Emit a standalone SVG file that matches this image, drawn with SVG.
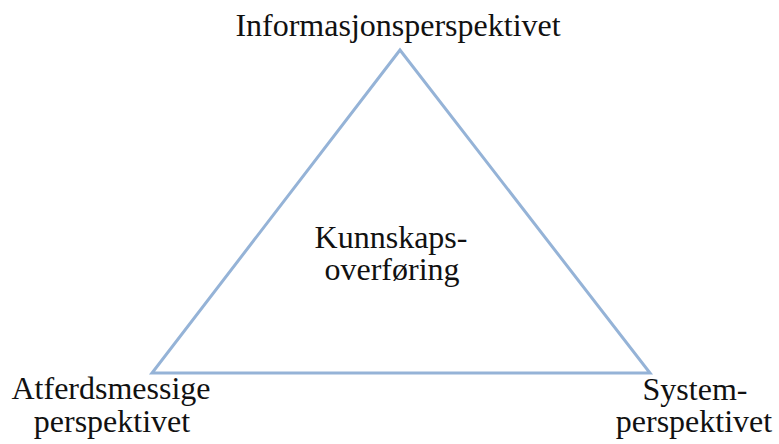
<svg xmlns="http://www.w3.org/2000/svg" width="779" height="444" viewBox="0 0 779 444">
<style>
.lbl{font-family:"Liberation Serif","Times New Roman",serif;font-size:32px;fill:#111111;text-anchor:middle}
.tri{fill:none;stroke:#95b3d7;stroke-width:3;stroke-linejoin:miter}
</style>
<rect width="779" height="444" fill="#ffffff"/>
<g id="connectors">
<polygon class="tri" points="400,50 152,373 650,373"/>
</g>
<g id="node-info"><text class="lbl" x="398" y="36">Informasjonsperspektivet</text></g>
<g id="node-center"><text class="lbl"><tspan x="391" y="248">Kunnskaps-</tspan><tspan x="392" y="280">overføring</tspan></text></g>
<g id="node-atferd"><text class="lbl"><tspan x="111" y="399">Atferdsmessige</tspan><tspan x="112" y="432">perspektivet</tspan></text></g>
<g id="node-system"><text class="lbl"><tspan x="695" y="400">System-</tspan><tspan x="694" y="432">perspektivet</tspan></text></g>
</svg>
